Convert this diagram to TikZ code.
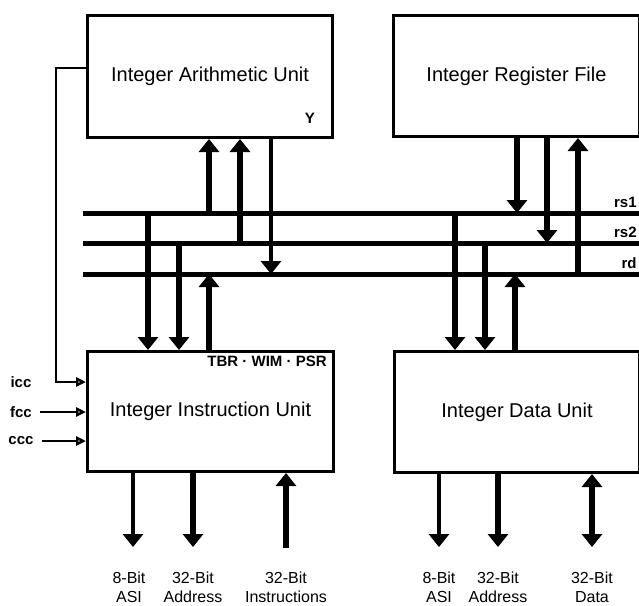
\documentclass[tikz,border=0pt]{standalone}
\usepackage{fontspec}
\setmainfont{Liberation Sans}
\usetikzlibrary{arrows.meta}
\usetikzlibrary{positioning}
\usetikzlibrary{calc}
\tikzset{
	>={Triangle[width=10pt,length=6.5pt]},
	unit/.style={draw, line width=1.5pt, anchor=north west, inner sep=0pt, font=\fontsize{10}{12}\selectfont},
	bus/.style={line width=2.5pt},
	heavy/.style={line width=3pt},
	light/.style={line width=2.2pt},
	cond/.style={line width=1.2pt, -{Triangle[open,width=4.5pt,length=5pt]}},
	tag/.style={font=\fontsize{7.5}{9}\selectfont\bfseries, inner sep=1pt},
	pin/.style={font=\fontsize{8}{9.5}\selectfont, align=center, inner sep=0pt},
}

\begin{document}
\begin{tikzpicture}[x=0.5pt, y=-0.5pt, line cap=butt, line join=miter]
			
			\useasboundingbox (0,0) rectangle (639,606);
			
			% The four units
			\node[unit, minimum width=122.5pt, minimum height=61pt] (iau) at (86,14) {Integer Arithmetic Unit};
			\node[unit, minimum width=123pt, minimum height=60.5pt] (irf) at (392,14) {Integer Register File};
			\node[unit, minimum width=123pt, minimum height=60pt] (iiu) at (86,350) {Integer Instruction Unit};
			\node[unit, minimum width=122.5pt, minimum height=60.5pt] (idu) at (393,350) {Integer Data Unit};
			
			% Register tags
			\node[tag] (ylab) at (310,118) {Y};
			\node[tag, anchor=east] (csr) at (329,361) {TBR · WIM · PSR};
			
			% Operand buses rs1, rs2, rd
			\coordinate (rs1w) at (83,213);
			\coordinate (rs1e) at (639,213);
			\coordinate (rs2w) at (83,243);
			\coordinate (rs2e) at (639,243);
			\coordinate (rdw) at (83,274);
			\coordinate (rde) at (639,274);
			\draw[bus] (rs1w) -- (rs1e);
			\draw[bus] (rs2w) -- (rs2e);
			\draw[bus] (rdw) -- (rde);
			\node[tag, anchor=south east] (rs1) at ([yshift=1.5pt]rs1e) {rs1};
			\node[tag, anchor=south east] (rs2) at ([yshift=1.5pt]rs2e) {rs2};
			\node[tag, anchor=south east] (rd) at ([yshift=1.5pt]rde) {rd};
			
			% Taps of the arithmetic unit
			\coordinate (a1) at (209,213);
			\coordinate (a2) at (240,243);
			\coordinate (a3) at (271,274);
			\draw[heavy,->] (a1) -- (a1 |- iau.south);
			\draw[heavy,->] (a2) -- (a2 |- iau.south);
			\draw[light,->] (a3 |- iau.south) -- (a3);
			
			% Taps of the instruction unit
			\coordinate (b1) at (148,213);
			\coordinate (b2) at (179,243);
			\coordinate (b3) at (209,274);
			\draw[heavy,->] (b1) -- (b1 |- iiu.north);
			\draw[heavy,->] (b2) -- (b2 |- iiu.north);
			\draw[heavy,->] (b3 |- iiu.north) -- (b3);
			
			% Taps of the register file
			\coordinate (c1) at (517,213);
			\coordinate (c2) at (547,243);
			\coordinate (c3) at (578,274);
			\draw[heavy,->] (c1 |- irf.south) -- (c1);
			\draw[heavy,->] (c2 |- irf.south) -- (c2);
			\draw[heavy,->] (c3) -- (c3 |- irf.south);
			
			% Taps of the data unit
			\coordinate (d1) at (455,213);
			\coordinate (d2) at (485,243);
			\coordinate (d3) at (515,274);
			\draw[heavy,->] (d1) -- (d1 |- idu.north);
			\draw[heavy,->] (d2) -- (d2 |- idu.north);
			\draw[heavy,->] (d3 |- idu.north) -- (d3);
			
			% Condition codes into the instruction unit
			\coordinate (fbtop) at (56,68);
			\node[tag] (icc) at (21,382) {icc};
			\node[tag] (fcc) at (21,412) {fcc};
			\node[tag] (ccc) at (21,441) {ccc};
			\draw[cond] (iau.west |- fbtop) -- (fbtop) |- (iiu.west |- icc);
			\draw[cond, shorten <=3pt] (fcc.east) -- (fcc.east -| iiu.west);
			\draw[cond, shorten <=3pt] (ccc.east) -- (ccc.east -| iiu.west);
			
			% External pins
			\coordinate (asi1) at (133,547);
			\coordinate (adr1) at (193,547);
			\coordinate (ins1) at (286,548);
			\coordinate (asi2) at (439,547);
			\coordinate (adr2) at (498,547);
			\coordinate (dat2) at (592,547);
			\draw[light,->] (asi1 |- iiu.south) -- (asi1);
			\draw[heavy,->] (adr1 |- iiu.south) -- (adr1);
			\draw[heavy,->] (ins1) -- (ins1 |- iiu.south);
			\draw[light,->] (asi2 |- idu.south) -- (asi2);
			\draw[heavy,->] (adr2 |- idu.south) -- (adr2);
			\draw[heavy,<->] (dat2 |- idu.south) -- (dat2);
			
			% Pin labels
			\node[pin, below=12.5pt of asi1, xshift=-2pt] (asi1lab) {8-Bit\\ASI};
			\node[pin, below=12.5pt of adr1] (adr1lab) {32-Bit\\Address};
			\node[pin, below=12pt of ins1] (ins1lab) {32-Bit\\Instructions};
			\node[pin, below=12.5pt of asi2] (asi2lab) {8-Bit\\ASI};
			\node[pin, below=12.5pt of adr2] (adr2lab) {32-Bit\\Address};
			\node[pin, below=12.5pt of dat2] (dat2lab) {32-Bit\\Data};
			
		\end{tikzpicture}
\end{document}
